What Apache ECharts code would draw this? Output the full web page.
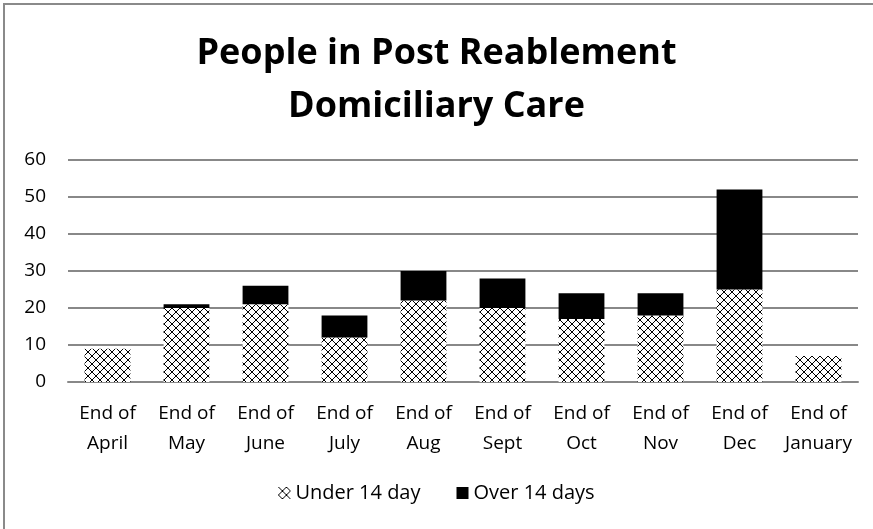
<!DOCTYPE html>
<html>
<head>
<meta charset="utf-8">
<script src="https://cdn.jsdelivr.net/npm/echarts@6/dist/echarts.min.js"></script>
<style>
  html, body { margin: 0; padding: 0; background: #fff; }
  #frame { position: absolute; left: 3px; top: 3px; width: 870px; height: 526px;
           border-left: 2px solid #8a8a8a; border-top: 2px solid #8a8a8a; box-sizing: border-box; }
  #main { position: absolute; left: 0; top: 0; width: 873px; height: 529px; }
</style>
</head>
<body>
<div id="frame"></div>
<div id="main"></div>
<script>
// categories (two line labels)
var months = ['End of\nApril', 'End of\nMay', 'End of\nJune', 'End of\nJuly', 'End of\nAug',
              'End of\nSept', 'End of\nOct', 'End of\nNov', 'End of\nDec', 'End of\nJanuary'];
// values
var under14 = [9, 20, 21, 12, 22, 20, 17, 18, 25, 7];
var over14  = [0, 1, 5, 6, 8, 8, 7, 6, 27, 0];
var yTicks = [0, 10, 20, 30, 40, 50, 60];

// hatch pattern for the "under 14 day" bars
function makeHatch() {
    var c = document.createElement('canvas');
    c.width = 8; c.height = 8;
    var g = c.getContext('2d');
    g.fillStyle = '#fff';
    g.fillRect(0, 0, 8, 8);
    g.strokeStyle = '#000';
    g.lineWidth = 1;
    g.beginPath();
    g.moveTo(0, 0); g.lineTo(8, 8);
    g.moveTo(8, 0); g.lineTo(0, 8);
    g.stroke();
    return c;
}
var hatch = { image: makeHatch(), repeat: 'repeat' };

var font = '"Open Sans", "Noto Sans", sans-serif';
var chart = echarts.init(document.getElementById('main'), null, { renderer: 'canvas' });

var option = {
    animation: false,
    backgroundColor: 'transparent',
    title: {
        text: 'People in Post Reablement\nDomiciliary Care',
        left: 'center',
        top: 22,
        textStyle: {
            fontFamily: '"Open Sans", sans-serif',
            fontWeight: 'bold',
            fontSize: 36,
            lineHeight: 53,
            color: '#000'
        }
    },
    legend: {
        bottom: 21,
        left: 'center',
        itemWidth: 12,
        itemHeight: 12,
        itemGap: 36,
        icon: 'rect',
        textStyle: { fontFamily: font, fontSize: 20, color: '#000' },
        data: ['Under 14 day', 'Over 14 days']
    },
    grid: { left: 68, right: 15, top: 160, bottom: 147, containLabel: false },
    xAxis: {
        type: 'category',
        data: months,
        axisLine: { lineStyle: { color: '#888', width: 2 } },
        axisTick: { show: false },
        axisLabel: {
            fontFamily: font, fontSize: 19, color: '#000',
            lineHeight: 30, margin: 17, interval: 0
        }
    },
    yAxis: {
        type: 'value',
        min: yTicks[0],
        max: yTicks[yTicks.length - 1],
        interval: 10,
        axisLine: { show: false },
        axisTick: { show: false },
        axisLabel: { fontFamily: font, fontSize: 19, color: '#000', margin: 22 },
        splitLine: { lineStyle: { color: '#888', width: 2 } }
    },
    series: [
        {
            name: 'Under 14 day',
            type: 'bar',
            stack: 'total',
            barWidth: '58%',
            data: under14,
            itemStyle: { color: hatch }
        },
        {
            name: 'Over 14 days',
            type: 'bar',
            stack: 'total',
            data: over14,
            itemStyle: { color: '#000' }
        }
    ]
};

chart.setOption(option);
</script>
</body>
</html>
